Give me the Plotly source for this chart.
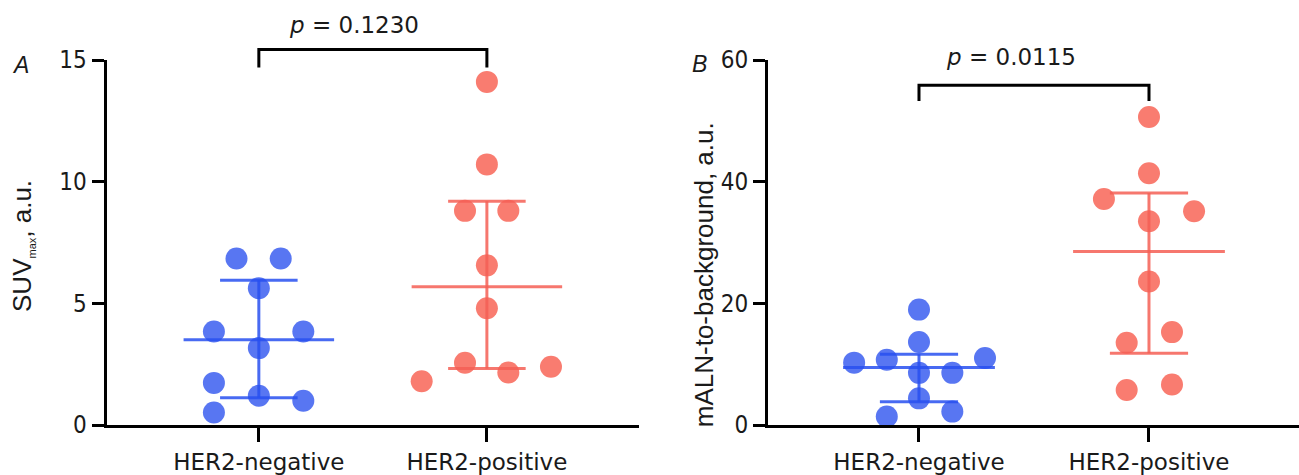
import plotly.graph_objects as go

# ---------------- data ----------------
groups = ["HER2-negative", "HER2-positive"]

# Panel A: SUVmax, a.u.
suv_neg = [6.84, 6.84, 5.62, 3.84, 3.84, 3.16, 1.73, 1.20, 1.00, 0.51]
suv_neg_dx = [-0.098, 0.096, 0.0, -0.197, 0.195, 0.0, -0.197, 0.0, 0.195, -0.197]
suv_pos = [14.10, 10.71, 8.80, 8.80, 6.56, 4.80, 2.56, 2.16, 1.80, 2.39]
suv_pos_dx = [0.0, 0.0, -0.096, 0.094, 0.0, 0.0, -0.096, 0.094, -0.286, 0.281]
suv_median = [3.50, 5.68]
suv_q1 = [1.12, 2.32]
suv_q3 = [5.95, 9.20]
suv_range = [0, 15]
suv_ticks = [0, 5, 10, 15]
suv_p = "0.1230"
suv_bracket = [14.69, 15.43]   # bottom, top of the significance bracket

# Panel B: mALN-to-background, a.u.
mal_neg = [18.97, 13.63, 10.25, 10.74, 11.02, 8.57, 8.57, 4.38, 1.39, 2.20]
mal_neg_dx = [0.0, 0.0, -0.282, -0.140, 0.287, 0.0, 0.145, 0.0, -0.140, 0.145]
mal_pos = [50.64, 41.39, 37.14, 35.13, 33.50, 23.59, 15.27, 13.52, 5.75, 6.66]
mal_pos_dx = [0.0, 0.0, -0.196, 0.196, 0.0, 0.0, 0.100, -0.097, -0.097, 0.100]
mal_median = [9.44, 28.54]
mal_q1 = [3.84, 11.79]
mal_q3 = [11.62, 38.12]
mal_range = [0, 60]
mal_ticks = [0, 20, 40, 60]
mal_p = "0.0115"
mal_bracket = [53.27, 55.84]

# ---------------- style ----------------
BLUE_DOT = "rgb(88,118,242)"
RED_DOT = "rgb(249,124,112)"
BLUE_LINE = "rgba(40,80,240,0.85)"
RED_LINE = "rgba(245,95,85,0.85)"
W, H = 1299, 475
MT, MB = 60, 47
PH = H - MT - MB

fig = go.Figure()


def add_panel(xa, ya, neg, neg_dx, pos, pos_dx, med, q1, q3):
    for i, (vals, dxs, col) in enumerate([(neg, neg_dx, BLUE_DOT), (pos, pos_dx, RED_DOT)]):
        fig.add_trace(go.Scatter(
            x=[i + d for d in dxs], y=vals, mode="markers",
            marker=dict(size=22, color=col, line=dict(width=0)),
            xaxis=xa, yaxis=ya, cliponaxis=False, hoverinfo="skip"))
    for i, col in enumerate([BLUE_LINE, RED_LINE]):
        xs = [i - 0.33, i + 0.33, None, i - 0.17, i + 0.17, None,
              i - 0.17, i + 0.17, None, i, i]
        ys = [med[i], med[i], None, q3[i], q3[i], None,
              q1[i], q1[i], None, q1[i], q3[i]]
        fig.add_trace(go.Scatter(
            x=xs, y=ys, mode="lines", line=dict(color=col, width=3),
            xaxis=xa, yaxis=ya, hoverinfo="skip", connectgaps=False))


add_panel("x", "y", suv_neg, suv_neg_dx, suv_pos, suv_pos_dx, suv_median, suv_q1, suv_q3)
add_panel("x2", "y2", mal_neg, mal_neg_dx, mal_pos, mal_pos_dx, mal_median, mal_q1, mal_q3)


def dom(v, rng):
    return (v - rng[0]) / (rng[1] - rng[0])


shapes = []
for xr, yr, br, rng in [("x", "y domain", suv_bracket, suv_range),
                        ("x2", "y2 domain", mal_bracket, mal_range)]:
    b, t = dom(br[0], rng), dom(br[1], rng)
    shapes.append(dict(type="path", xref=xr, yref=yr,
                       path=f"M 0,{b} L 0,{t} L 1,{t} L 1,{b}",
                       line=dict(color="black", width=3)))

axis_common = dict(showline=True, linewidth=3, linecolor="black", ticks="outside",
                   tickwidth=3, tickcolor="black", showgrid=False, zeroline=False,
                   fixedrange=True)
xfont = dict(family="DejaVu Sans", size=23, color="#1a1a1a")
yfont = dict(family="Liberation Sans Narrow, Arial Narrow, DejaVu Sans Condensed", size=24, color="#1a1a1a")

fig.update_layout(
    width=W, height=H,
    margin=dict(l=0, r=0, t=MT, b=MB, pad=0),
    paper_bgcolor="white", plot_bgcolor="white",
    showlegend=False,
    shapes=shapes,
    xaxis=dict(domain=[106.5 / W, 639 / W], range=[-0.668, 1.667], anchor="y",
               tickvals=[0, 1], ticktext=groups, ticklen=14, tickfont=xfont, **axis_common),
    yaxis=dict(domain=[0, 1], range=suv_range, anchor="x", tickvals=suv_ticks,
               ticklen=12, tickfont=yfont, **axis_common),
    xaxis2=dict(domain=[768 / W, 1.0], range=[-0.6565, 1.6522], anchor="y2",
                tickvals=[0, 1], ticktext=groups, ticklen=14, tickfont=xfont, **axis_common),
    yaxis2=dict(domain=[0, 1], range=mal_range, anchor="x2", tickvals=mal_ticks,
                ticklen=12, tickfont=yfont, **axis_common),
)

pfont = dict(family="DejaVu Sans", size=23, color="#1a1a1a")
letter_font = dict(family="Liberation Sans", size=23, color="#1a1a1a")
title_font = dict(family="Liberation Sans", size=26, color="#1a1a1a")
ann = [
    dict(text=f"<i>p</i> = {suv_p}", xref="x", yref="paper", x=0.417,
         y=(H - MB - 25) / PH, showarrow=False, font=pfont, xanchor="center", yanchor="middle"),
    dict(text=f"<i>p</i> = {mal_p}", xref="x2", yref="paper", x=0.40,
         y=(H - MB - 57) / PH, showarrow=False, font=pfont, xanchor="center", yanchor="middle"),
    dict(text="<i>A</i>", xref="paper", yref="paper", x=20 / W, y=(H - MB - 65) / PH,
         showarrow=False, font=letter_font, xanchor="center", yanchor="middle"),
    dict(text="<i>B</i>", xref="paper", yref="paper", x=699 / W, y=(H - MB - 64) / PH,
         showarrow=False, font=letter_font, xanchor="center", yanchor="middle"),
    dict(text="SUV<sub><span style='font-size:11px'>max</span></sub>, a.u.", xref="paper", yref="paper",
         x=23 / W, y=(H - MB - 247.5) / PH, textangle=-90, showarrow=False,
         font=title_font, xanchor="center", yanchor="middle"),
    dict(text="mALN-to-background, a.u.", xref="paper", yref="paper",
         x=704 / W, y=(H - MB - 276) / PH, textangle=-90, showarrow=False,
         font=title_font, xanchor="center", yanchor="middle"),
]
fig.update_layout(annotations=ann)

fig.write_html("out.html", config={"displayModeBar": False},
               post_script="document.body.style.margin='0';")
